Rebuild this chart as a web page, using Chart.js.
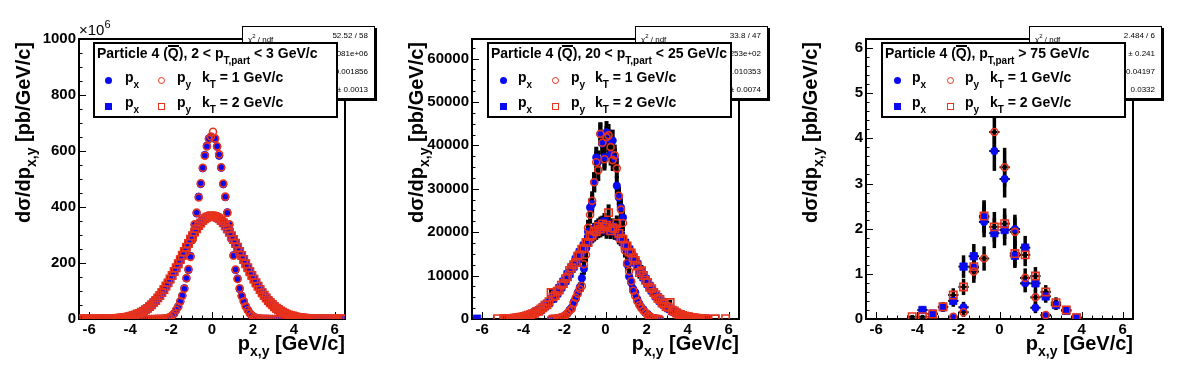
<!DOCTYPE html>
<html>
<head>
<meta charset="utf-8">
<title>p_x,y distributions</title>
<script src="https://cdn.jsdelivr.net/npm/chart.js@4.4.1/dist/chart.umd.min.js"></script>
<style>
  body { margin: 0; background: #fff; }
  #wrap { position: relative; width: 1181px; height: 370px; overflow: hidden; font-family: "Liberation Sans", Arial, sans-serif; color: #000; }
  canvas { position: absolute; top: 0; }
  .sb { position: relative; top: 6px; font-size: 10px; }
  .ytitle { position: absolute; top: 302px; width: 260px; height: 20px; font: bold 20px/20px "Liberation Sans", Arial, sans-serif; text-align: right; white-space: nowrap; transform-origin: 0 0; transform: rotate(-90deg); }
  .xtitle { position: absolute; top: 333px; font: bold 20px/20px "Liberation Sans", Arial, sans-serif; white-space: nowrap; text-align: right; }
  .xtitle .sb, .ytitle .sb { font-size: 14px; top: 6px; }
  .mult { position: absolute; top: 22px; font: 15px/15px "Liberation Sans", Arial, sans-serif; white-space: nowrap; }
  .mult .sp { position: relative; top: -7px; font-size: 11px; }
  .stats { position: absolute; top: 26px; width: 131px; height: 71px; border: 1px solid #000; box-shadow: 2px 2px 0 #000; background: #fff; font: 8px/8px "Liberation Sans", Arial, sans-serif; }
  .stats .l { position: absolute; left: 5px; white-space: nowrap; }
  .stats .v { position: absolute; right: 6px; white-space: nowrap; }
  .stats sup { font-size: 6px; }
  .leg { position: absolute; top: 42px; width: 241px; height: 72px; border: 2px solid #000; background: #fff; font: bold 14px/14px "Liberation Sans", Arial, sans-serif; }
  .leg .t { position: absolute; white-space: nowrap; }
  .ov { display: inline-block; border-top: 2px solid #000; line-height: 13px; }
  .mk { position: absolute; width: 7px; height: 7px; box-sizing: border-box; }
  .dot { border-radius: 50%; }
  .fb { background: #0a0af0; }
  .ro { border: 1.5px solid #e8331c; }
</style>
</head>
<body>
<div id="wrap">
  <canvas id="c1" width="394" height="370" style="left:0px"></canvas>
  <canvas id="c2" width="394" height="370" style="left:394px"></canvas>
  <canvas id="c3" width="393" height="370" style="left:788px"></canvas>

  <!-- panel 1 -->
  <div class="ytitle" style="left:13px">d&sigma;/dp<span class="sb">x,y</span> [pb/GeV/c]</div>
  <div class="xtitle" style="right:836px">p<span class="sb">x,y</span> [GeV/c]</div>
  <div class="mult" style="left:79px">&times;10<span class="sp">6</span></div>
  <div class="stats" style="left:242px">
    <div class="l" style="top:5px">&chi;<sup>2</sup> / ndf</div><div class="v" style="top:5px">52.52 / 58</div>
    <div class="v" style="top:23px">&plusmn; 1.081e+06</div>
    <div class="v" style="top:41px">&plusmn; 0.001856</div>
    <div class="v" style="top:59px">&plusmn; 0.0013</div>
  </div>
  <div class="leg" style="left:93px">
    <div class="t" style="left:2px;top:1px">Particle 4 (<span class="ov">Q</span>), 2 &lt; p<span class="sb">T,part</span> &lt; 3 GeV/c</div>
    <i class="mk dot fb" style="left:9.5px;top:33px"></i>
    <div class="t" style="left:30px;top:26px">p<span class="sb">x</span></div>
    <i class="mk dot ro" style="left:62.5px;top:33px"></i>
    <div class="t" style="left:82px;top:26px">p<span class="sb">y</span></div>
    <div class="t" style="left:107px;top:26px">k<span class="sb">T</span> = 1 GeV/c</div>
    <i class="mk fb" style="left:9.5px;top:58.5px"></i>
    <div class="t" style="left:30px;top:51px">p<span class="sb">x</span></div>
    <i class="mk ro" style="left:62.5px;top:58.5px"></i>
    <div class="t" style="left:82px;top:51px">p<span class="sb">y</span></div>
    <div class="t" style="left:107px;top:51px">k<span class="sb">T</span> = 2 GeV/c</div>
  </div>

  <!-- panel 2 -->
  <div class="ytitle" style="left:406px">d&sigma;/dp<span class="sb">x,y</span> [pb/GeV/c]</div>
  <div class="xtitle" style="right:442px">p<span class="sb">x,y</span> [GeV/c]</div>
  <div class="stats" style="left:635px">
    <div class="l" style="top:5px">&chi;<sup>2</sup> / ndf</div><div class="v" style="top:5px">33.8 / 47</div>
    <div class="v" style="top:23px">&plusmn; 2.253e+02</div>
    <div class="v" style="top:41px">&plusmn; 0.010353</div>
    <div class="v" style="top:59px">&plusmn; 0.0074</div>
  </div>
  <div class="leg" style="left:487px">
    <div class="t" style="left:2px;top:1px">Particle 4 (<span class="ov">Q</span>), 20 &lt; p<span class="sb">T,part</span> &lt; 25 GeV/c</div>
    <i class="mk dot fb" style="left:10.5px;top:33px"></i>
    <div class="t" style="left:29px;top:26px">p<span class="sb">x</span></div>
    <i class="mk dot ro" style="left:62.5px;top:33px"></i>
    <div class="t" style="left:82px;top:26px">p<span class="sb">y</span></div>
    <div class="t" style="left:106px;top:26px">k<span class="sb">T</span> = 1 GeV/c</div>
    <i class="mk fb" style="left:10.5px;top:58.5px"></i>
    <div class="t" style="left:29px;top:51px">p<span class="sb">x</span></div>
    <i class="mk ro" style="left:62.5px;top:58.5px"></i>
    <div class="t" style="left:82px;top:51px">p<span class="sb">y</span></div>
    <div class="t" style="left:106px;top:51px">k<span class="sb">T</span> = 2 GeV/c</div>
  </div>

  <!-- panel 3 -->
  <div class="ytitle" style="left:800px">d&sigma;/dp<span class="sb">x,y</span> [pb/GeV/c]</div>
  <div class="xtitle" style="right:48px">p<span class="sb">x,y</span> [GeV/c]</div>
  <div class="stats" style="left:1029px">
    <div class="l" style="top:5px">&chi;<sup>2</sup> / ndf</div><div class="v" style="top:5px">2.484 / 6</div>
    <div class="v" style="top:23px">&plusmn; 0.241</div>
    <div class="v" style="top:41px">0.04197</div>
    <div class="v" style="top:59px">0.0332</div>
  </div>
  <div class="leg" style="left:881px">
    <div class="t" style="left:2px;top:1px">Particle 4 (<span class="ov">Q</span>), p<span class="sb">T,part</span> &gt; 75 GeV/c</div>
    <i class="mk dot fb" style="left:10.5px;top:33px"></i>
    <div class="t" style="left:29px;top:26px">p<span class="sb">x</span></div>
    <i class="mk dot ro" style="left:63.5px;top:33px"></i>
    <div class="t" style="left:82px;top:26px">p<span class="sb">y</span></div>
    <div class="t" style="left:107px;top:26px">k<span class="sb">T</span> = 1 GeV/c</div>
    <i class="mk fb" style="left:10.5px;top:58.5px"></i>
    <div class="t" style="left:29px;top:51px">p<span class="sb">x</span></div>
    <i class="mk ro" style="left:63.5px;top:58.5px"></i>
    <div class="t" style="left:82px;top:51px">p<span class="sb">y</span></div>
    <div class="t" style="left:107px;top:51px">k<span class="sb">T</span> = 2 GeV/c</div>
  </div>
</div>

<script>
// tick labels (all panels share the x axis)
const xTicks = [-6, -4, -2, 0, 2, 4, 6];
const yTicks1 = [0, 200, 400, 600, 800, 1000];
const yTicks2 = [0, 10000, 20000, 30000, 40000, 50000, 60000];
const yTicks3 = [0, 1, 2, 3, 4, 5, 6];

// bin centres, 0.1 GeV/c wide
const xBins = [
  -6.45,-6.35,-6.25,-6.15,-6.05,-5.95,-5.85,-5.75,-5.65,-5.55,
  -5.45,-5.35,-5.25,-5.15,-5.05,-4.95,-4.85,-4.75,-4.65,-4.55,
  -4.45,-4.35,-4.25,-4.15,-4.05,-3.95,-3.85,-3.75,-3.65,-3.55,
  -3.45,-3.35,-3.25,-3.15,-3.05,-2.95,-2.85,-2.75,-2.65,-2.55,
  -2.45,-2.35,-2.25,-2.15,-2.05,-1.95,-1.85,-1.75,-1.65,-1.55,
  -1.45,-1.35,-1.25,-1.15,-1.05,-0.95,-0.85,-0.75,-0.65,-0.55,
  -0.45,-0.35,-0.25,-0.15,-0.05,0.05,0.15,0.25,0.35,0.45,
  0.55,0.65,0.75,0.85,0.95,1.05,1.15,1.25,1.35,1.45,
  1.55,1.65,1.75,1.85,1.95,2.05,2.15,2.25,2.35,2.45,
  2.55,2.65,2.75,2.85,2.95,3.05,3.15,3.25,3.35,3.45,
  3.55,3.65,3.75,3.85,3.95,4.05,4.15,4.25,4.35,4.45,
  4.55,4.65,4.75,4.85,4.95,5.05,5.15,5.25,5.35,5.45,
  5.55,5.65,5.75,5.85,5.95,6.05,6.15,6.25,6.35,6.45
];

// panel 1: 2 < pT,part < 3 GeV/c  (units of 10^6 pb/GeV/c)
const xNarrow1 = xBins.slice(32, 98);   // -3.25 .. 3.25
const pxNarrow1 = [
  0.05,0.05,0.1,0.1,0.2,0.3,0.4,0.6,1,1.5,2.5,4,7,12,20,32,45,62,83,110,145,175,225,285,336,377,437,482,538,586,619,645,650,
  648,643,615,583,540,481,435,381,336,288,228,175,145,107,83,64,46,33,21,12,7,4,2.5,1.5,1,0.6,0.4,0.3,0.2,0.1,0.1,0.05,0.05
];
const pyNarrow1 = [
  0.05,0.05,0.1,0.15,0.2,0.3,0.4,0.7,1,1.6,2.4,4.2,7,13,19,33,44,63,84,108,146,178,222,283,338,380,434,485,540,583,616,643,652,
  669,645,617,588,542,484,437,379,338,286,226,177,143,110,82,63,45,31,20,13,7,4,2.6,1.5,1,0.6,0.4,0.3,0.2,0.1,0.1,0.05,0.05
];
const xWide1 = xBins;
const pxWide1 = [
  0.01,0.01,0.02,0.03,0.04,0.06,0.08,0.1,0.15,0.2,0.3,0.4,0.5,0.6,0.8,1.0,1.3,1.6,2.1,2.7,3.4,4.3,5.3,6.5,8,
  10,12,14,17,20,24,28,33,38,44,51,58,66,75,84,94,105,117,129,142,155,169,183,197,212,227,241,256,270,284,
  297,310,322,333,343,352,358,363,366,368,
  367,365,362,357,351,344,332,321,311,296,285,269,257,240,228,211,198,182,170,154,143,128,118,104,95,
  83,76,65,59,50,45,37,34,27,25,19,17,13.5,12,9.5,8,6.3,5.4,4.2,3.4,2.6,2.1,1.6,1.3,1.0,
  0.8,0.6,0.5,0.4,0.3,0.2,0.15,0.1,0.08,0.06,0.04,0.03,0.02,0.01,0.01
];
const pyWide1 = [
  0.01,0.02,0.02,0.03,0.05,0.06,0.09,0.12,0.15,0.22,0.3,0.4,0.5,0.7,0.8,1.1,1.3,1.7,2.1,2.8,3.4,4.4,5.3,6.6,8.2,
  10,12.3,14,17.5,20,24.5,28,33.5,38,44.5,51,58.5,66,75.5,84,94.5,105,117.5,129,142.5,155,169.5,183,197.5,212,
  227.5,241,256.5,270,284.5,297,310.5,322,333.5,343,352.5,358,363.5,366,369,
  368,366.5,363,358.5,352,343.5,333,322.5,310,297.5,284,270.5,256,241.5,227,212.5,197,183.5,169,155.5,
  142,129.5,117,105.5,94,84.5,75,66.5,58,51.5,44,38.5,33,28.5,24,20.5,17,14.5,12,10.5,
  8,6.6,5.3,4.4,3.4,2.8,2.1,1.7,1.3,1.1,0.8,0.7,0.5,0.4,0.3,0.22,0.15,0.12,0.09,0.06,0.05,0.03,0.02,0.02,0.01
];

// panel 2: 20 < pT,part < 25 GeV/c
const xNarrow2 = xBins.slice(38, 92);   // -2.65 .. 2.65
const pxNarrow2 = [
  20,60,90,160,230,420,550,950,1250,2100,2600,3900,4600,6100,7300,9400,11600,16300,20100,25700,26500,31500,37200,36300,42600,40400,37300,
  43000,41100,38000,41100,36900,30700,28000,25700,23400,16500,12600,9800,8400,6900,6100,4550,3500,2700,2200,1400,1150,700,300,200,100,40,10
];
const pyNarrow2 = [
  30,50,110,150,300,380,650,800,1400,1900,2300,3600,4900,5800,6900,7600,12600,14800,21000,24000,27250,31500,36100,34300,42650,40600,36800,
  41900,42300,39600,36600,37700,34700,28400,25200,22100,15800,12900,11000,8700,6500,5300,4100,3200,2500,1900,1500,900,600,350,180,90,30,10
];
const errNarrow2 = [
  40,90,130,170,220,290,370,430,520,610,700,820,920,1020,1130,1270,1420,1640,1850,2050,2170,2300,2480,2520,2650,2630,2600,
  2600,2630,2650,2520,2480,2300,2170,2050,1850,1640,1420,1270,1130,1020,920,820,700,610,520,430,370,290,220,170,130,90,40
];
const xWide2 = [-6.25, -5.25].concat(xBins.slice(15, 115), [5.35, 5.85]);
const pxWide2 = [80, null,
  30,70,90,100,170,210,220,330,350,520,560,750,760,1050,1100,1500,1600,2000,2100,2750,2900,3550,3700,4600,4700,
  5800,5900,7100,7300,8600,8800,10300,10400,11900,12100,13700,13800,15400,15500,16900,17000,18500,18400,19800,19700,20900,20500,21700,21000,22500,
  20400,21800,20900,21300,20100,20500,19000,19200,17700,17500,16200,16000,14600,14300,13000,12600,11200,10900,9600,9200,8100,7600,6600,6200,5300,
  5000,4200,3950,3300,3100,2500,2300,1800,1700,1350,1200,950,850,650,600,450,400,280,250,180,160,100,90,50,40,
  null, null];
const pyWide2 = [null, 90,
  50,40,120,90,130,180,260,280,420,400,600,680,850,980,1200,1300,1750,1800,2300,2600,3200,3300,4000,6100,5100,
  5400,6400,6700,7800,8200,9300,9700,11200,11800,12500,13000,14500,14800,16100,16300,17600,17600,19000,19300,20300,20100,21300,20700,21900,21200,
  21600,24500,20300,21000,20800,22000,19700,18600,18400,17000,16800,15400,15200,14100,13500,12200,10700,11100,10000,8900,8400,7300,7000,6100,5600,
  4800,4500,3700,3500,2900,2700,3800,2000,1850,1450,1100,1050,750,720,550,500,360,320,230,200,140,120,70,60,30,
  50, 70];
const errWide2 = [90, 100,
  80,100,120,140,160,180,200,230,250,280,310,340,370,410,440,490,530,570,610,660,710,760,810,860,910,
  960,1010,1070,1130,1180,1240,1290,1340,1390,1450,1500,1540,1590,1630,1670,1710,1750,1780,1810,1840,1860,1880,1890,1900,1910,
  1910,1900,1890,1880,1860,1840,1810,1780,1750,1710,1670,1630,1590,1540,1500,1450,1390,1340,1290,1240,1180,1130,1070,1010,960,
  910,860,810,760,710,660,610,570,530,490,440,410,370,340,310,280,250,230,200,180,160,140,120,100,80,
  80, 90];

// panel 3: pT,part > 75 GeV/c, 0.5 GeV/c bins
const xNarrow3 = [-2.25, -1.75, -1.25, -0.75, -0.25, 0.25, 0.75, 1.25, 1.75, 2.25];
const pxNarrow3 = [0.03, 0.26, 1.14, 2.15, 3.72, 3.10, 1.99, 0.79, 0.25, 0.08];
const pyNarrow3 = [0.05, 0.15, 1.05, 1.34, 4.14, 3.36, 1.93, 0.91, 0.48, 0.09];
const pxNarrowErr3 = [0.04, 0.12, 0.26, 0.34, 0.44, 0.41, 0.32, 0.2, 0.12, 0.06];
const pyNarrowErr3 = [0.05, 0.1, 0.25, 0.27, 0.46, 0.43, 0.32, 0.21, 0.16, 0.07];
const xWide3 = [-4.25, -3.75, -3.25, -2.75, -2.25, -1.75, -1.25, -0.75, -0.25, 0.25, 0.75, 1.25, 1.75, 2.25, 2.75, 3.25, 3.75];
const pxWide3 = [null, 0.20, 0.12, 0.26, 0.40, 1.16, 1.39, 2.25, 1.90, 1.97, 1.40, 1.58, 0.79, 0.50, 0.31, 0.18, 0.03];
const pyWide3 = [0.05, 0.05, 0.11, 0.27, 0.53, 0.71, 1.16, 2.28, 2.04, 2.11, 1.45, 1.42, 0.95, 0.60, 0.36, 0.20, 0.03];
const pxWideErr3 = [null, 0.08, 0.06, 0.1, 0.13, 0.25, 0.27, 0.35, 0.33, 0.34, 0.27, 0.26, 0.18, 0.14, 0.11, 0.08, 0.03];
const pyWideErr3 = [0.04, 0.04, 0.06, 0.1, 0.15, 0.18, 0.24, 0.35, 0.33, 0.34, 0.28, 0.25, 0.2, 0.15, 0.12, 0.09, 0.03];

const RED = '#e8331c';
const BLUE = '#0a0af0';
const tickFont = { family: 'Liberation Sans', size: 15, weight: 'bold' };

function series(xs, ys, errs, color, style, filled, order) {
  const pts = [];
  xs.forEach((x, i) => {
    if (ys[i] == null) return;
    pts.push({ x: x, y: ys[i], e: errs ? errs[i] : null });
  });
  return {
    data: pts,
    pointStyle: style,
    pointRadius: style === 'rect' ? 5.2 : (filled ? 3.7 : 3.5),
    pointBackgroundColor: filled ? color : 'rgba(0,0,0,0)',
    pointBorderColor: color,
    pointBorderWidth: filled ? 0.8 : 1.6,
    order: order
  };
}

// ROOT style frame with inside ticks, then the error bars, under the markers
const rootFrame = {
  id: 'rootFrame',
  beforeDatasetsDraw(chart, args, o) {
    const { ctx, chartArea: a, scales: { x, y } } = chart;
    ctx.save();
    ctx.strokeStyle = '#000';
    ctx.lineWidth = 1;
    ctx.beginPath();
    const xStep = xTicks[1] - xTicks[0];
    for (let k = Math.ceil(x.min / o.xMinor); k * o.xMinor <= x.max; k++) {
      const v = k * o.xMinor;
      const r = v / xStep;
      const len = Math.abs(r - Math.round(r)) < 1e-6 ? 7 : 3.5;
      const px = Math.round(x.getPixelForValue(v)) + 0.5;
      ctx.moveTo(px, a.bottom);
      ctx.lineTo(px, a.bottom - len);
    }
    const yStep = o.yTicks[1] - o.yTicks[0];
    for (let k = Math.ceil(y.min / o.yMinor); k * o.yMinor <= y.max; k++) {
      const v = k * o.yMinor;
      const r = v / yStep;
      const len = Math.abs(r - Math.round(r)) < 1e-6 ? 7 : 3.5;
      const py = Math.round(y.getPixelForValue(v)) + 0.5;
      ctx.moveTo(a.left, py);
      ctx.lineTo(a.left + len, py);
    }
    ctx.stroke();
    ctx.lineWidth = 2;
    ctx.strokeRect(a.left, a.top, a.right - a.left, a.bottom - a.top);

    // error bars
    ctx.beginPath();
    ctx.rect(a.left, a.top, a.right - a.left, a.bottom - a.top);
    ctx.clip();
    chart.data.datasets.forEach(ds => {
      ds.data.forEach(p => {
        if (p.e == null) return;
        const px = x.getPixelForValue(p.x);
        ctx.lineWidth = o.errWidth;
        ctx.beginPath();
        ctx.moveTo(px, y.getPixelForValue(p.y - p.e));
        ctx.lineTo(px, y.getPixelForValue(p.y + p.e));
        ctx.stroke();
        if (o.xErr) {
          const py = y.getPixelForValue(p.y);
          ctx.lineWidth = 2;
          ctx.beginPath();
          ctx.moveTo(x.getPixelForValue(p.x - o.xErr), py);
          ctx.lineTo(x.getPixelForValue(p.x + o.xErr), py);
          ctx.stroke();
        }
      });
    });
    ctx.restore();
  }
};

function makePanel(id, p) {
  return new Chart(document.getElementById(id), {
    type: 'scatter',
    data: { datasets: p.sets },
    options: {
      responsive: false,
      animation: false,
      events: [],
      devicePixelRatio: 1,
      layout: { padding: { top: 39, right: p.padR, left: 0, bottom: 0 } },
      plugins: {
        legend: { display: false },
        tooltip: { enabled: false },
        rootFrame: { xMinor: 0.5, yMinor: p.yMinor, yTicks: p.yTicks, errWidth: p.errWidth, xErr: p.xErr }
      },
      scales: {
        x: {
          type: 'linear', min: -6.5, max: 6.5,
          grid: { display: false, drawTicks: false }, border: { display: false },
          afterBuildTicks: s => { s.ticks = xTicks.map(v => ({ value: v })); },
          afterFit: s => { s.height = 51; },
          ticks: { font: tickFont, color: '#000', padding: 2, maxRotation: 0, autoSkip: false, callback: v => String(v) }
        },
        y: {
          type: 'linear', min: 0, max: p.yMax,
          grid: { display: false, drawTicks: false }, border: { display: false },
          afterBuildTicks: s => { s.ticks = p.yTicks.map(v => ({ value: v })); },
          afterFit: s => { s.width = p.axisW; },
          ticks: { font: tickFont, color: '#000', padding: 3, autoSkip: false, callback: v => String(v) }
        }
      }
    },
    plugins: [rootFrame]
  });
}

makePanel('c1', {
  padR: 49, axisW: 79, yMax: 1000, yTicks: yTicks1, yMinor: 50, errWidth: 3, xErr: 0,
  sets: [
    series(xNarrow1, pxNarrow1, null, BLUE, 'circle', true, 4),
    series(xNarrow1, pyNarrow1, null, RED, 'circle', false, 3),
    series(xWide1, pxWide1, null, BLUE, 'rect', true, 2),
    series(xWide1, pyWide1, null, RED, 'rect', false, 1)
  ]
});

makePanel('c2', {
  padR: 49, axisW: 78, yMax: 64500, yTicks: yTicks2, yMinor: 2500, errWidth: 4, xErr: 0,
  sets: [
    series(xNarrow2, pxNarrow2, errNarrow2, BLUE, 'circle', true, 4),
    series(xNarrow2, pyNarrow2, errNarrow2, RED, 'circle', false, 3),
    series(xWide2, pxWide2, errWide2, BLUE, 'rect', true, 2),
    series(xWide2, pyWide2, errWide2, RED, 'rect', false, 1)
  ]
});

makePanel('c3', {
  padR: 48, axisW: 78, yMax: 6.2, yTicks: yTicks3, yMinor: 0.2, errWidth: 3.5, xErr: 0.25,
  sets: [
    series(xNarrow3, pxNarrow3, pxNarrowErr3, BLUE, 'circle', true, 4),
    series(xNarrow3, pyNarrow3, pyNarrowErr3, RED, 'circle', false, 3),
    series(xWide3, pxWide3, pxWideErr3, BLUE, 'rect', true, 2),
    series(xWide3, pyWide3, pyWideErr3, RED, 'rect', false, 1)
  ]
});
</script>
</body>
</html>
